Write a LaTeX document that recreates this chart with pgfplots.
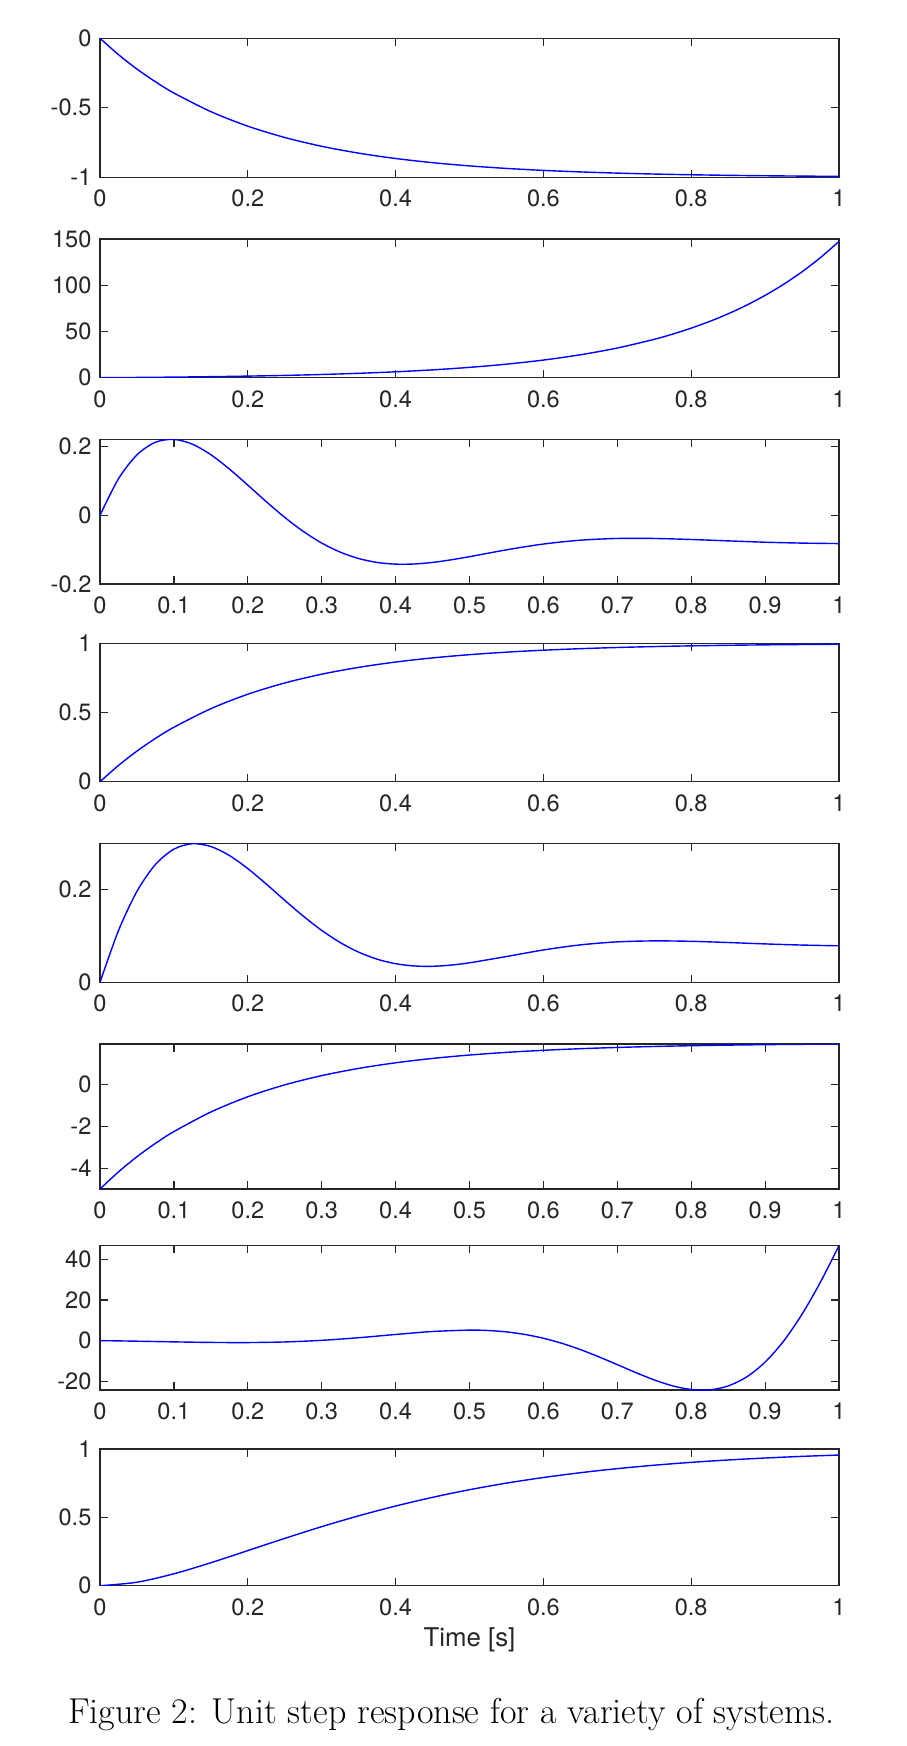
\documentclass[border=0pt]{standalone}
\usepackage{fontspec}
\usepackage{pgfplots}
\pgfplotsset{compat=1.18}
\newfontfamily\hel{TeX Gyre Heros}
\definecolor{axgray}{rgb}{0.15,0.15,0.15}
\definecolor{mblue}{rgb}{0,0,1}
\pgfplotsset{
  mstep/.style={
    scale only axis, width=369.5pt, enlargelimits=false, xmin=0, xmax=1,
    axis line style={axgray, line width=0.65pt},
    every tick/.style={axgray, line width=0.6pt},
    major tick length=3.8pt,
    tick align=inside, xtick pos=both, ytick pos=both,
    tick label style={font=\fontsize{11.8}{13}\selectfont\hel, text=axgray},
    xticklabel style={inner sep=0pt, anchor=north, yshift=-6.2pt},
    yticklabel style={inner sep=0pt, anchor=east, xshift=-4.1pt},
    xtick={0,0.2,0.4,0.6,0.8,1}, xticklabels={0,0.2,0.4,0.6,0.8,1},
    clip=true,
  },
  mdec/.style={
    xtick={0,0.1,0.2,0.3,0.4,0.5,0.6,0.7,0.8,0.9,1},
    xticklabels={0,0.1,0.2,0.3,0.4,0.5,0.6,0.7,0.8,0.9,1},
  },
  mline/.style={mblue, line width=0.7pt, smooth, mark=none},
}
\begin{document}
\begin{tikzpicture}
\useasboundingbox (0,0) rectangle (453pt,-873pt);
% Panel 1
\begin{axis}[mstep, at={(50pt,-19.15pt)}, anchor=north west, height=69.5pt,
  ymin=-1, ymax=0, ytick={-1,-0.5,0}, yticklabels={-1,-0.5,0}]
\addplot[mline] coordinates {(0,0) (0.025,-0.1175) (0.05,-0.2212) (0.075,-0.3127) (0.1,-0.3935) (0.15,-0.5276) (0.2,-0.6321) (0.25,-0.7135) (0.3,-0.7769) (0.35,-0.8262) (0.4,-0.8647) (0.45,-0.8946) (0.5,-0.9179) (0.55,-0.9361) (0.6,-0.9502) (0.65,-0.9612) (0.7,-0.9698) (0.75,-0.9765) (0.8,-0.9817) (0.85,-0.9857) (0.9,-0.9889) (0.95,-0.9913) (1,-0.9933)};
\end{axis}
% Panel 2
\begin{axis}[mstep, at={(50pt,-119.5pt)}, anchor=north west, height=69.35pt,
  ymin=0, ymax=150, ytick={0,50,100,150}, yticklabels={0,50,100,150}]
\addplot[mline] coordinates {(0,0) (0.05,0.284) (0.1,0.6487) (0.15,1.117) (0.2,1.7183) (0.25,2.4903) (0.3,3.4817) (0.35,4.7546) (0.4,6.3891) (0.45,8.4877) (0.5,11.1825) (0.55,14.643) (0.6,19.0855) (0.65,24.79) (0.7,32.1155) (0.75,41.521) (0.775,47.18) (0.8,53.598) (0.825,60.87) (0.85,69.105) (0.875,78.44) (0.9,89.017) (0.925,101.0) (0.95,114.58) (0.975,129.97) (1,147.41)};
\end{axis}
% Panel 3
\begin{axis}[mstep, mdec, at={(50pt,-219.65pt)}, anchor=north west, height=72.35pt,
  ymin=-0.2, ymax=0.221, ytick={-0.2,0,0.2}, yticklabels={-0.2,0,0.2}]
\addplot[mline] coordinates {(0,0) (0.025,0.1061) (0.05,0.1757) (0.075,0.2125) (0.1,0.2207) (0.125,0.2069) (0.15,0.1762) (0.175,0.1347) (0.2,0.0877) (0.225,0.0396) (0.25,-0.0062) (0.275,-0.0468) (0.3,-0.0808) (0.325,-0.1072) (0.35,-0.1259) (0.375,-0.1373) (0.4,-0.1422) (0.425,-0.1418) (0.45,-0.1372) (0.475,-0.1297) (0.5,-0.1205) (0.55,-0.1006) (0.6,-0.0837) (0.65,-0.0725) (0.7,-0.0675) (0.75,-0.0675) (0.8,-0.0705) (0.85,-0.0745) (0.9,-0.0784) (0.95,-0.0810) (1,-0.0824)};
\end{axis}
% Panel 4
\begin{axis}[mstep, at={(50pt,-321.65pt)}, anchor=north west, height=69.2pt,
  ymin=0, ymax=1, ytick={0,0.5,1}, yticklabels={0,0.5,1}]
\addplot[mline] coordinates {(0,0) (0.025,0.1175) (0.05,0.2212) (0.075,0.3127) (0.1,0.3935) (0.15,0.5276) (0.2,0.6321) (0.25,0.7135) (0.3,0.7769) (0.35,0.8262) (0.4,0.8647) (0.45,0.8946) (0.5,0.9179) (0.55,0.9361) (0.6,0.9502) (0.65,0.9612) (0.7,0.9698) (0.75,0.9765) (0.8,0.9817) (0.85,0.9857) (0.9,0.9889) (0.95,0.9913) (1,0.9933)};
\end{axis}
% Panel 5
\begin{axis}[mstep, at={(50pt,-421.65pt)}, anchor=north west, height=69.5pt,
  ymin=0, ymax=0.30, ytick={0,0.2}, yticklabels={0,0.2}]
\addplot[mline] coordinates {(0,0) (0.025,0.1115) (0.05,0.1963) (0.075,0.2543) (0.1,0.2874) (0.125,0.2991) (0.15,0.2931) (0.175,0.2738) (0.2,0.2454) (0.225,0.2121) (0.25,0.1769) (0.275,0.1429) (0.3,0.1121) (0.325,0.0859) (0.35,0.0651) (0.375,0.0499) (0.4,0.0402) (0.425,0.0353) (0.45,0.0346) (0.475,0.0372) (0.5,0.0421) (0.55,0.0557) (0.6,0.0698) (0.65,0.0808) (0.7,0.0873) (0.75,0.0894) (0.8,0.0885) (0.85,0.0859) (0.9,0.0829) (0.95,0.0804) (1,0.0788)};
\end{axis}
% Panel 6
\begin{axis}[mstep, mdec, at={(50pt,-522pt)}, anchor=north west, height=72.5pt,
  ymin=-5, ymax=1.953, ytick={-4,-2,0}, yticklabels={-4,-2,0}]
\addplot[mline] coordinates {(0,-5) (0.025,-4.1775) (0.05,-3.4516) (0.075,-2.8111) (0.1,-2.2455) (0.15,-1.3068) (0.2,-0.5753) (0.25,-0.0055) (0.3,0.4383) (0.35,0.7834) (0.4,1.0529) (0.45,1.2622) (0.5,1.4253) (0.55,1.5527) (0.6,1.6514) (0.65,1.7284) (0.7,1.7886) (0.75,1.8355) (0.8,1.8719) (0.85,1.8999) (0.9,1.9223) (0.95,1.9391) (1,1.9531)};
\end{axis}
% Panel 7
\begin{axis}[mstep, mdec, at={(50pt,-622.8pt)}, anchor=north west, height=72.2pt,
  ymin=-24.3, ymax=46.71, ytick={-20,0,20,40}, yticklabels={-20,0,20,40}]
\addplot[mline] coordinates {(0,0) (0.05,-0.292) (0.1,-0.627) (0.15,-0.902) (0.2,-0.967) (0.25,-0.663) (0.3,0.131) (0.35,1.419) (0.4,3.013) (0.45,4.482) (0.5,5.152) (0.525,4.961) (0.55,4.275) (0.575,3.023) (0.6,1.155) (0.625,-1.338) (0.65,-4.414) (0.675,-7.968) (0.7,-11.822) (0.725,-15.722) (0.75,-19.339) (0.775,-22.264) (0.8,-24.049) (0.825,-24.223) (0.85,-22.309) (0.875,-17.875) (0.9,-10.592) (0.925,-0.274) (0.95,12.991) (0.975,28.84) (1,46.709)};
\end{axis}
% Panel 8
\begin{axis}[mstep, at={(50pt,-724.5pt)}, anchor=north west, height=68.35pt,
  ymin=0, ymax=1, ytick={0,0.5,1}, yticklabels={0,0.5,1},
  xlabel={Time [s]},
  xlabel style={font=\fontsize{12.9}{14}\selectfont\hel, text=axgray, inner sep=0pt,
    at={(axis description cs:0.5,0)}, anchor=base, yshift=-30.5pt}]
\addplot[mline] coordinates {(0,0) (0.05,0.0255) (0.1,0.0872) (0.15,0.1681) (0.2,0.2569) (0.25,0.3463) (0.3,0.4321) (0.35,0.5113) (0.4,0.5829) (0.45,0.6465) (0.5,0.7023) (0.55,0.7506) (0.6,0.7916) (0.65,0.8267) (0.7,0.8565) (0.75,0.8815) (0.8,0.9024) (0.85,0.9198) (0.9,0.9342) (0.95,0.9462) (1,0.956)};
\end{axis}
\node[anchor=base, inner sep=0pt, font=\fontsize{18}{22}\selectfont] at (225.6pt,-861.5pt) {Figure 2: Unit step response for a variety of systems.};
\end{tikzpicture}
\end{document}
